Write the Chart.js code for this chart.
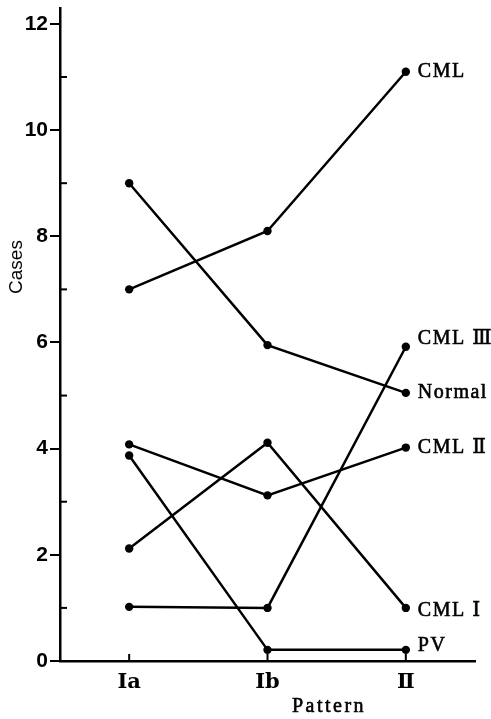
<!DOCTYPE html>
<html><head><meta charset="utf-8">
<script src="https://cdn.jsdelivr.net/npm/chart.js@4/dist/chart.umd.min.js"></script>
<style>html,body{margin:0;padding:0;background:#fff;}#wrap{width:491px;height:719px;}</style>
</head><body><div id="wrap"><canvas id="c" width="491" height="719"></canvas></div>
<script>
const categories = ['Ⅰa', 'Ⅰb', 'Ⅱ'];
const seriesNames = ['CML', 'Normal', 'CML Ⅲ', 'CML Ⅱ', 'CML Ⅰ', 'PV'];
const cml    = [7.0, 8.1, 11.1];
const normal = [9.0, 5.95, 5.05];
const cml3   = [1.02, 1.0, 5.92];
const cml2   = [4.08, 3.12, 4.02];
const cml1   = [2.12, 4.11, 1.0];
const pv     = [3.87, 0.21, 0.21];
const yTicks = [0, 2, 4, 6, 8, 10, 12];
const yMinorTicks = [1, 3, 5, 7, 9, 11];
const xTitle = 'Pattern';
const yTitle = 'Cases';

const seriesValues = [cml, normal, cml3, cml2, cml1, pv];
const labelDy = [0, 0, -8, 0, 3, -4];

const decor = {
  id: 'decor',
  afterDraw(chart) {
    const ctx = chart.ctx;
    const ys = chart.scales.y, xs = chart.scales.x;
    const area = chart.chartArea;
    ctx.save();
    ctx.strokeStyle = '#000';
    ctx.lineWidth = 2;
    yMinorTicks.forEach(v => {
      const py = ys.getPixelForValue(v);
      ctx.beginPath(); ctx.moveTo(area.left, py); ctx.lineTo(area.left + 7, py); ctx.stroke();
    });
    categories.forEach((c, i) => {
      const px = xs.getPixelForValue(i);
      ctx.beginPath(); ctx.moveTo(px, area.bottom); ctx.lineTo(px, area.bottom - 7); ctx.stroke();
    });
    ctx.fillStyle = '#000';
    ctx.lineWidth = 0.6;
    ctx.font = '20px "Liberation Serif", "DejaVu Serif", serif';
    ctx.letterSpacing = '1.5px';
    ctx.textBaseline = 'middle';
    ctx.textAlign = 'left';
    chart.data.datasets.forEach((ds, i) => {
      const meta = chart.getDatasetMeta(i);
      const pt = meta.data[meta.data.length - 1];
      ctx.fillText(ds.label, pt.x + 12, pt.y + labelDy[i]);
      ctx.strokeText(ds.label, pt.x + 12, pt.y + labelDy[i]);
    });
    ctx.font = '20px "Liberation Serif", serif';
    ctx.letterSpacing = '2.5px';
    ctx.textAlign = 'center';
    ctx.fillText(xTitle, 329, 707);
    ctx.strokeText(xTitle, 329, 707);
    ctx.letterSpacing = '0px';
    ctx.save();
    ctx.translate(17, 267);
    ctx.rotate(-Math.PI / 2);
    ctx.font = '19px "Liberation Sans", Arial, sans-serif';
    ctx.fillText(yTitle, 0, 0);
    ctx.restore();
    ctx.restore();
  }
};

new Chart(document.getElementById('c'), {
  type: 'line',
  data: {
    labels: categories,
    datasets: seriesValues.map((vals, i) => ({
      label: seriesNames[i],
      data: vals,
      borderColor: '#000',
      borderWidth: 2.5,
      backgroundColor: '#000',
      pointBackgroundColor: '#000',
      pointBorderWidth: 0,
      pointRadius: 4.2,
      tension: 0,
      fill: false
    }))
  },
  options: {
    responsive: false,
    animation: false,
    devicePixelRatio: 1,
    layout: { padding: { top: 8, right: 16, left: 0, bottom: 0 } },
    plugins: { legend: { display: false }, tooltip: { enabled: false } },
    scales: {
      x: {
        type: 'category',
        offset: true,
        grid: { display: false, drawTicks: false },
        border: { display: true, color: '#000', width: 2.5 },
        ticks: {
          color: '#000',
          padding: 9,
          maxRotation: 0,
          font: { family: '"DejaVu Serif", "Liberation Serif", serif', size: 21, weight: 'bold' }
        },
        afterFit: s => { s.height = 58; s.paddingLeft = 0; s.paddingRight = 0; }
      },
      y: {
        type: 'linear',
        min: 0,
        max: 12.3,
        afterBuildTicks: s => { s.ticks = yTicks.map(v => ({ value: v })); },
        grid: { display: true, drawOnChartArea: false, drawTicks: true, tickLength: 10, color: '#000', lineWidth: 2 },
        border: { display: true, color: '#000', width: 2.5 },
        ticks: {
          color: '#000',
          padding: 2,
          font: { family: '"Liberation Sans Narrow", "Liberation Sans", Arial, sans-serif', size: 21, weight: 'bold' }
        },
        afterFit: s => { s.width = 60; s.paddingTop = 0; s.paddingBottom = 0; }
      }
    }
  },
  plugins: [decor]
});
</script>
</body></html>
